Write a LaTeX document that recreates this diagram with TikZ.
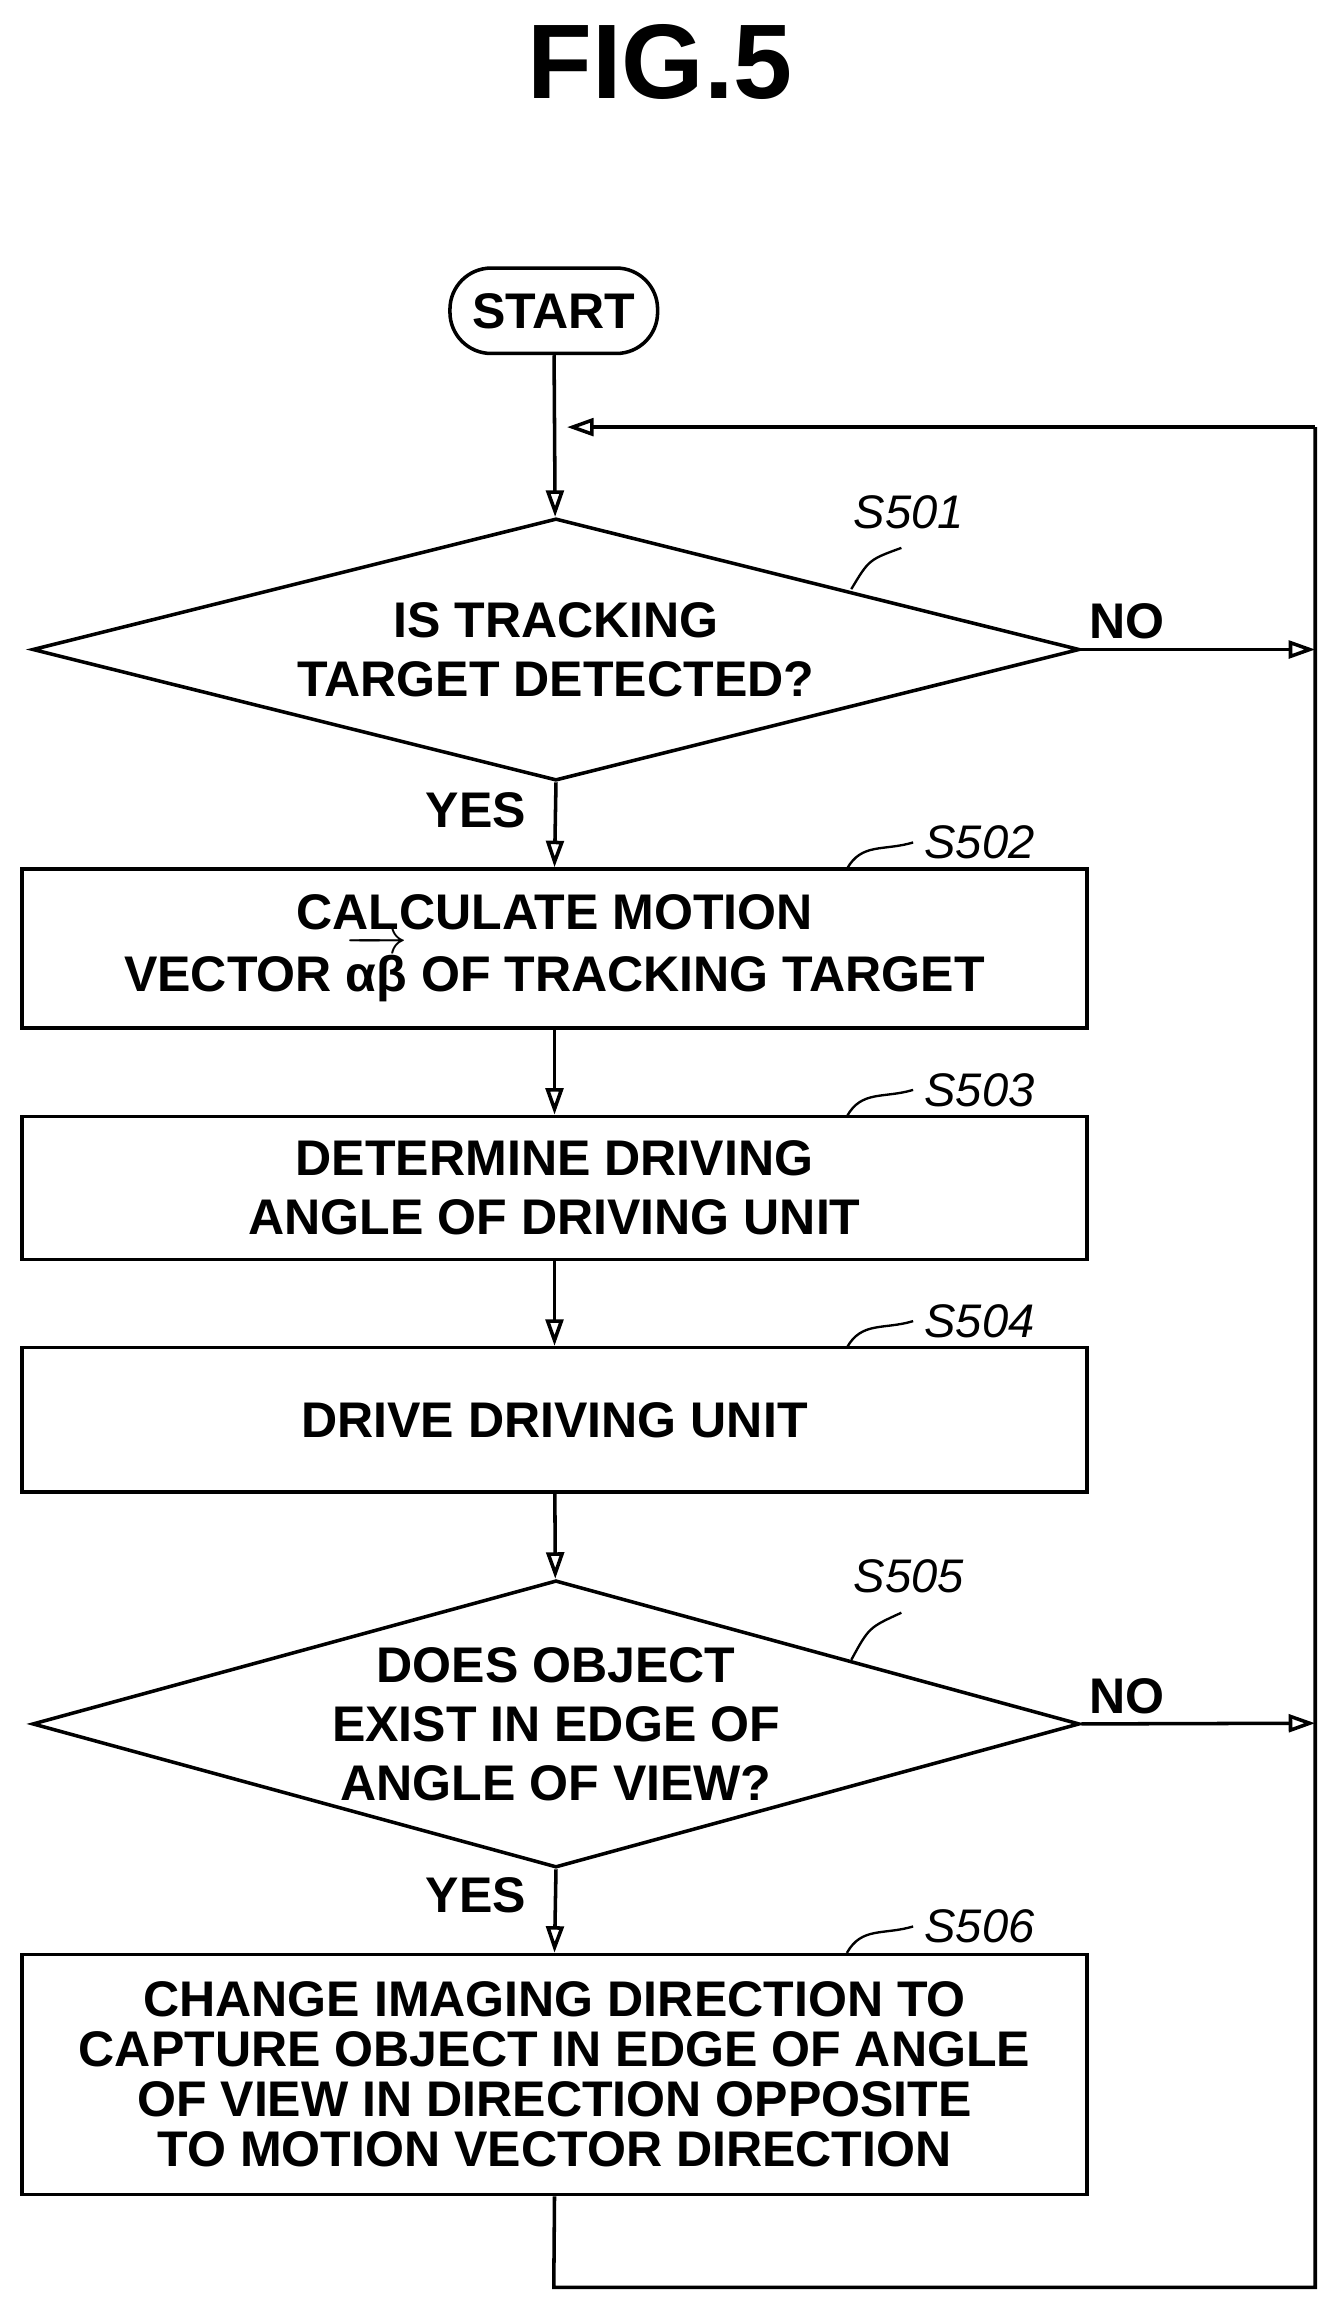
\documentclass[tikz,border=0pt]{standalone}
\usepackage{fontspec}
\usepackage{amsmath}
\setmainfont{Liberation Sans}
\usetikzlibrary{shapes.geometric,arrows.meta}
\newcommand\myvecab{\setbox0\hbox{αβ}\vbox{\offinterlineskip\hbox to\wd0{\rightarrowfill}\kern0.5pt\box0}}
\begin{document}
\begin{tikzpicture}[x=0.5pt,y=-0.5pt,
  txt/.style={font=\fontsize{17}{20}\selectfont\bfseries,align=center},
  box/.style={draw,line width=1.2pt,minimum width=361.5pt,txt},
  lbl/.style={font=\fontsize{16}{18}\selectfont\itshape},
  arr/.style={line width=1.2pt,-{Triangle[open,length=9pt,width=6pt]}},
  ln/.style={line width=1.2pt},
  lead/.style={line width=0.8pt}]
\useasboundingbox (0,0) rectangle (910,1563);
\node[font=\fontsize{36}{40}\selectfont\bfseries] (title) at (448,42) {FIG.5};
\node[draw,line width=1.2pt,rounded corners=14pt,minimum width=70.5pt,minimum height=29pt,txt] (start) at (376,211) {START};
\coordinate (j1) at (376,290);
\coordinate (rt) at (893,290);
\node[draw,line width=1.2pt,diamond,aspect=4,minimum width=355.5pt,minimum height=89pt,inner sep=0pt,txt] (d1) at (377.5,441) {IS TRACKING\\TARGET DETECTED?};
\coordinate (n1) at (893,441);
\node[box,minimum height=54pt,font=\fontsize{17}{21}\selectfont\bfseries] (b2) at (376.5,644) {CALCULATE MOTION\\VECTOR \myvecab{} OF TRACKING TARGET};
\node[box,minimum height=48.5pt] (b3) at (376.5,806.5) {DETERMINE DRIVING\\ANGLE OF DRIVING UNIT};
\node[box,minimum height=49pt] (b4) at (376.5,964) {DRIVE DRIVING UNIT};
\node[draw,line width=1.2pt,diamond,aspect=3.65,minimum width=355.5pt,minimum height=97.5pt,inner sep=0pt,txt] (d2) at (377.5,1170.5) {DOES OBJECT\\EXIST IN EDGE OF\\ANGLE OF VIEW?};
\coordinate (n2) at (893,1170);
\node[box,minimum height=81.5pt,font=\fontsize{17}{17}\selectfont\bfseries] (b6) at (376.5,1408.5) {CHANGE IMAGING DIRECTION TO\\CAPTURE OBJECT IN EDGE OF ANGLE\\OF VIEW IN DIRECTION OPPOSITE\\TO MOTION VECTOR DIRECTION};
\coordinate (bl) at (376,1553);
\coordinate (br) at (893,1553);
% connectors
\draw[arr] (start) -- (d1);
\draw[arr] (rt) -- (385,290);
\draw[arr] (d1.east) -- (n1);
\draw[arr] (d1.south) -- (b2.north);
\draw[arr] (b2) -- (b3);
\draw[arr] (b3) -- (b4);
\draw[arr] (b4) -- (d2);
\draw[arr] (d2.east) -- (n2);
\draw[arr] (d2.south) -- (b6.north);
\draw[ln] (b6.south) -- (bl) -- (br) -- (rt);
% labels
\node[txt] (no1) at (765,422) {NO};
\node[txt] (no2) at (765,1152) {NO};
\node[txt] (yes1) at (323,550) {YES};
\node[txt] (yes2) at (323,1287) {YES};
\node[lbl] (s1) at (617,348) {S501};
\node[lbl] (s2) at (665,572) {S502};
\node[lbl] (s3) at (665,740) {S503};
\node[lbl] (s4) at (665,897) {S504};
\node[lbl] (s5) at (617,1070) {S505};
\node[lbl] (s6) at (665,1308) {S506};
\draw[lead] (578,400) .. controls (590,380) and (590,380) .. (612,372);
\draw[lead] (578,1127) .. controls (590,1105) and (590,1105) .. (612,1095);
\foreach \y/\n in {572/a,740/b,897/c,1308/d}{
  \draw[lead] (575,\y+18) .. controls (585,\y) and (600,\y+6) .. (620,\y);
}
\end{tikzpicture}
\end{document}
